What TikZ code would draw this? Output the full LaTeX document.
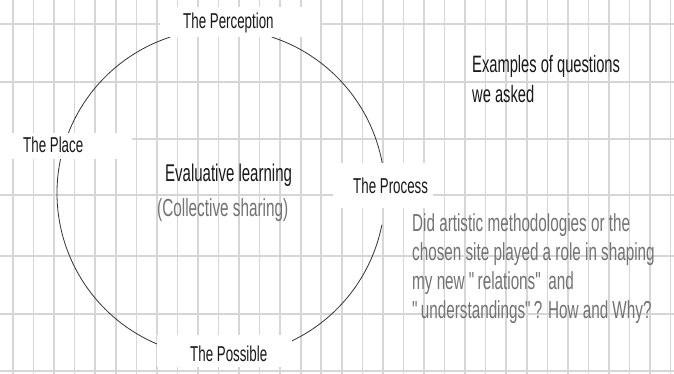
\documentclass[tikz,border=0pt]{standalone}
\usepackage{fontspec}
\setmainfont{Liberation Sans}[FakeStretch=0.62]
\usepackage{tikz}
\usetikzlibrary{positioning}

\newcommand{\padded}[3]{\makebox[#1pt][l]{\hspace*{#2pt}#3}}

\tikzset{
  gridline/.style={draw=black!16, line width=1.6pt},
  ring/.style={draw=black!80, line width=0.8pt},
  tag/.style={fill=white, inner sep=0pt, anchor=north west, text=black!90,
    font=\fontsize{21.5}{26}\selectfont},
  plain/.style={inner sep=0pt, anchor=base west, text=black!90},
  soft/.style={inner sep=0pt, anchor=base west, text=black!55}
}

\begin{document}
\begin{tikzpicture}[x=1pt, y=-1pt]
  \useasboundingbox (0,0) rectangle (674,374);
  \fill[white] (0,0) rectangle (674,374);

  % paper grid
  \foreach \k in {0,...,32}
    \draw[gridline] ({13+20.55*\k},0) -- ({13+20.55*\k},374);
  \foreach \y in {24,82,139,195,256,314,371}
    \draw[gridline] (0,\y) -- (674,\y);

  % the ring, broken at the four labels
  \coordinate (hub) at (221,193);
  \draw[ring] (hub) ++(11.2:164) arc[start angle=11.2, end angle=64.5, radius=164];
  \draw[ring] (hub) ++(112.5:164) arc[start angle=112.5, end angle=192, radius=164];
  \draw[ring] (hub) ++(201.5:164) arc[start angle=201.5, end angle=252, radius=164];
  \draw[ring] (hub) ++(288:164) arc[start angle=288, end angle=349.5, radius=164];

  % labels on the ring
  \node[tag, text height=21pt, text depth=9pt] (Perc) at (160,7) {\padded{160}{23}{The Perception}};
  \node[tag, text height=19pt, text depth=7pt] (Place) at (0,133) {\padded{132}{23}{The Place}};
  \node[tag, text height=30pt, text depth=15pt] (Proc) at (333,163) {\padded{100}{20}{The Process}};
  \node[tag, text height=26pt, text depth=6pt] (Poss) at (157,335) {\padded{135}{33}{The Possible}};

  % centre of the ring
  \node[plain, font=\fontsize{24.2}{29}\selectfont] (Eval) at (165,182) {Evaluative learning};
  \node[soft, font=\fontsize{24.7}{29}\selectfont] (Coll) at (157,216) {(Collective sharing)};

  % questions (base = last line)
  \node[plain, align=left, font=\fontsize{23.7}{30}\selectfont] (Ex) at (472,103)
    {Examples of questions\\we asked};
  \node[soft, align=left, font=\fontsize{24.6}{28.7}\selectfont] (Q) at (412,318)
    {Did artistic methodologies or the\\chosen site played a role in shaping\\my new \textquotedbl relations\textquotedbl\ and\\\textquotedbl understandings\textquotedbl? How and Why?};

\end{tikzpicture}
\end{document}
